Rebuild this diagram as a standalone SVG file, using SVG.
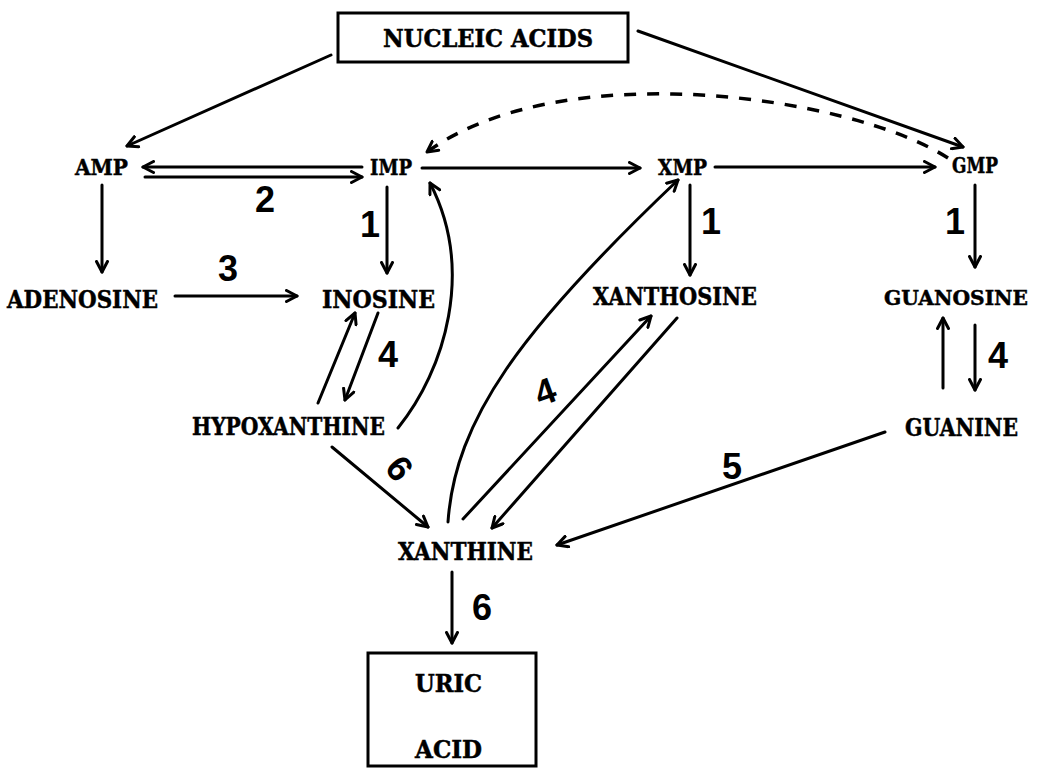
<svg xmlns="http://www.w3.org/2000/svg" width="1040" height="772" viewBox="0 0 1040 772">
<defs>
<marker id="ah" viewBox="0 0 14 14" refX="12" refY="7" markerWidth="14" markerHeight="14" markerUnits="userSpaceOnUse" orient="auto">
<path d="M1.5,1.5 L12,7 L1.5,12.5" fill="none" stroke="#000" stroke-width="3" stroke-linecap="round" stroke-linejoin="round"/>
</marker>
<style>
.lbl{font-family:"DejaVu Serif","Liberation Serif",serif;font-weight:bold;font-size:24px;fill:#000;stroke:#000;stroke-width:0.5}
.top{font-size:22px}
.num{font-family:"Liberation Sans","DejaVu Sans",sans-serif;font-weight:bold;font-size:36px;fill:#000;text-anchor:middle}
.box{fill:none;stroke:#000;stroke-width:3}
.c{fill:none;stroke:#000;stroke-width:3;stroke-linecap:round;marker-end:url(#ah)}
.d{fill:none;stroke:#000;stroke-width:3.5;stroke-dasharray:12 11;marker-end:url(#ah)}
</style>
</defs>
<rect width="1040" height="772" fill="#fff"/>
<g id="connectors">
<path class="c" d="M331,55 L127,146"/>
<path class="c" d="M638,31 L963,147"/>
<path class="d" d="M948,158 C850,95 560,55 427,152"/>
<path class="c" d="M362,167 L143,167"/>
<path class="c" d="M145,177 L362,177"/>
<path class="c" d="M422,168 L640,168"/>
<path class="c" d="M715,167 L935,167"/>
<path class="c" d="M102,185 L102,272"/>
<path class="c" d="M175,296 L297,296"/>
<path class="c" d="M387,187 L387,273"/>
<path class="c" d="M690,185 L690,275"/>
<path class="c" d="M975,185 L975,267"/>
<path class="c" d="M318,403 L355,313"/>
<path class="c" d="M378,313 L345,400"/>
<path class="c" d="M398,428 C445,370 475,270 430,183"/>
<path class="c" d="M943,388 L943,318"/>
<path class="c" d="M975,325 L975,390"/>
<path class="c" d="M332,447 L428,527"/>
<path class="c" d="M448,522 C455,420 520,330 678,180"/>
<path class="c" d="M463,519 L651,316"/>
<path class="c" d="M677,318 L492,528"/>
<path class="c" d="M885,432 L557,545"/>
<path class="c" d="M452,572 L452,643"/>
</g>
<g id="nucleic-acids">
<rect class="box" x="338" y="13" width="290" height="49"/>
<text class="lbl" x="383" y="47" textLength="210" lengthAdjust="spacingAndGlyphs">NUCLEIC ACIDS</text>
</g>
<g id="amp"><text class="lbl top" x="75" y="175" textLength="53" lengthAdjust="spacingAndGlyphs">AMP</text></g>
<g id="imp"><text class="lbl top" x="370" y="175" textLength="42" lengthAdjust="spacingAndGlyphs">IMP</text></g>
<g id="xmp"><text class="lbl top" x="658" y="175" textLength="49" lengthAdjust="spacingAndGlyphs">XMP</text></g>
<g id="gmp"><text class="lbl top" x="952" y="173" textLength="46" lengthAdjust="spacingAndGlyphs">GMP</text></g>
<g id="adenosine"><text class="lbl" x="7" y="308" textLength="151" lengthAdjust="spacingAndGlyphs">ADENOSINE</text></g>
<g id="inosine"><text class="lbl" x="322" y="308" textLength="113" lengthAdjust="spacingAndGlyphs">INOSINE</text></g>
<g id="xanthosine"><text class="lbl" x="593" y="305" textLength="164" lengthAdjust="spacingAndGlyphs">XANTHOSINE</text></g>
<g id="guanosine"><text class="lbl" x="884" y="305" style="font-size:21px" textLength="144" lengthAdjust="spacingAndGlyphs">GUANOSINE</text></g>
<g id="hypoxanthine"><text class="lbl" x="192" y="435" textLength="193" lengthAdjust="spacingAndGlyphs">HYPOXANTHINE</text></g>
<g id="guanine"><text class="lbl" x="905" y="436" textLength="113" lengthAdjust="spacingAndGlyphs">GUANINE</text></g>
<g id="xanthine"><text class="lbl" x="398" y="560" textLength="135" lengthAdjust="spacingAndGlyphs">XANTHINE</text></g>
<g id="uric-acid">
<rect class="box" x="368" y="653" width="168" height="113"/>
<text class="lbl" x="415" y="692" textLength="67" lengthAdjust="spacingAndGlyphs">URIC</text>
<text class="lbl" x="415" y="758" textLength="67" lengthAdjust="spacingAndGlyphs">ACID</text>
</g>
<g id="edge-labels">
<text class="num" x="265" y="212">2</text>
<text class="num" x="228" y="281">3</text>
<text class="num" x="370" y="237">1</text>
<text class="num" x="711" y="234">1</text>
<text class="num" x="955" y="234">1</text>
<text class="num" x="388" y="367">4</text>
<text class="num" transform="rotate(-20 545 391)" x="545" y="404">4</text>
<text class="num" x="998" y="368">4</text>
<text class="num" transform="rotate(50 400 468)" x="400" y="481">6</text>
<text class="num" x="732" y="479">5</text>
<text class="num" x="482" y="620">6</text>
</g>
</svg>
